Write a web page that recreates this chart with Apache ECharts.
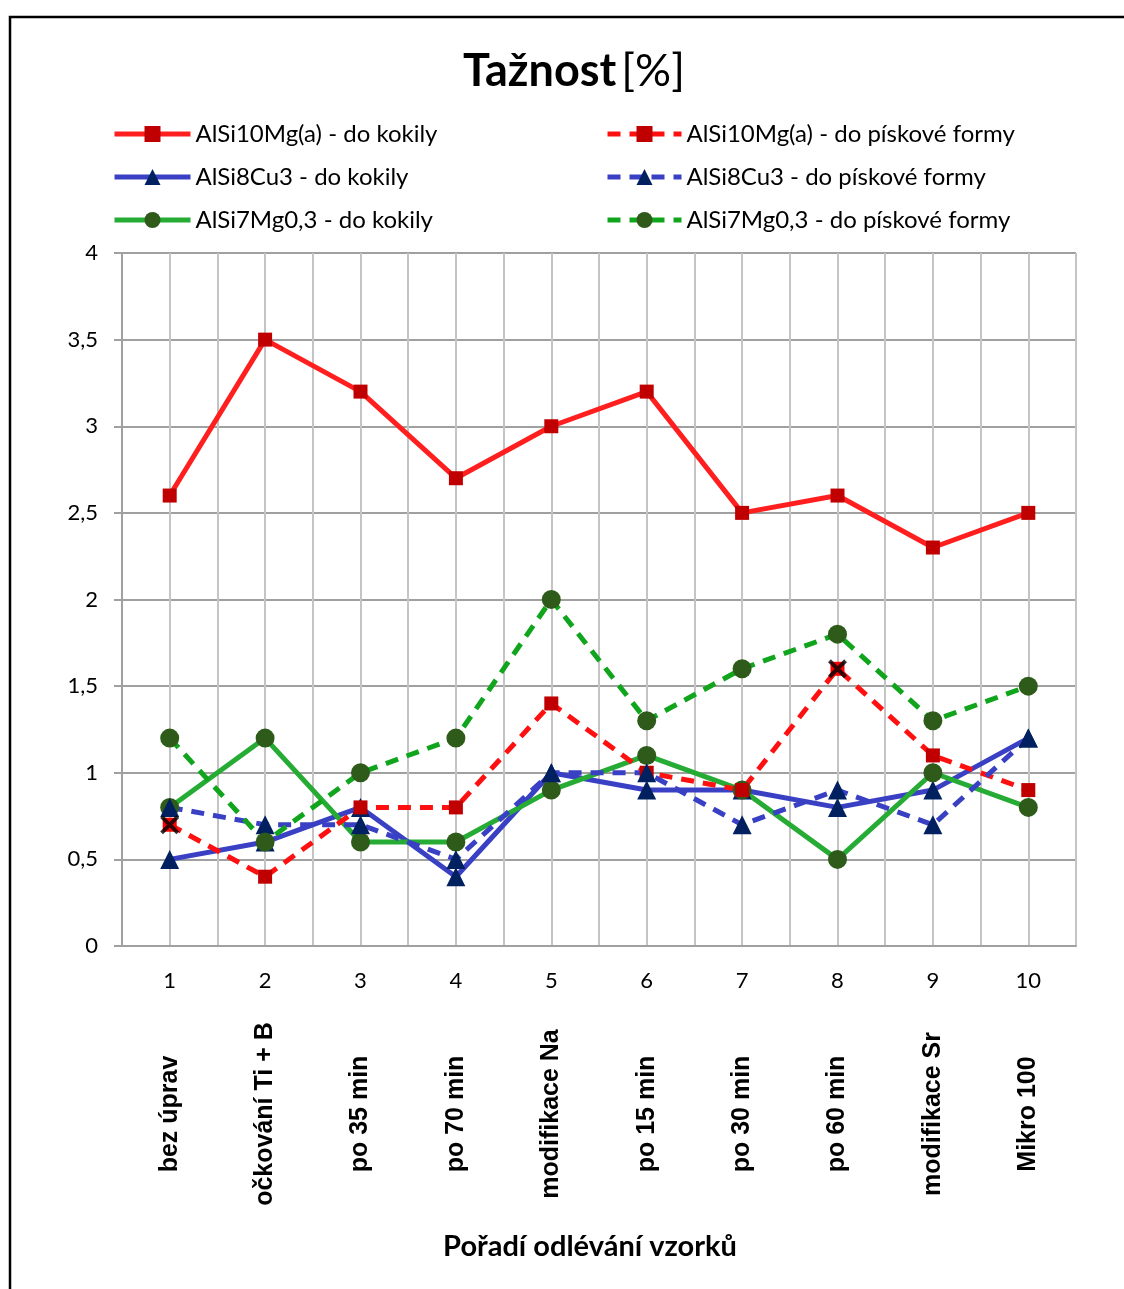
<!DOCTYPE html>
<html>
<head>
<meta charset="utf-8">
<script src="https://cdn.jsdelivr.net/npm/echarts@6/dist/echarts.min.js"></script>
<style>
  html, body { margin: 0; padding: 0; background: #fff; }
  #chart { width: 1124px; height: 1289px; }
</style>
</head>
<body>
<div id="chart"></div>
<script>
// Pořadí vzorků a popisy kroků
const sampleNumbers = ['1', '2', '3', '4', '5', '6', '7', '8', '9', '10'];
const stepLabels = ['bez úprav', 'očkování Ti + B', 'po 35 min', 'po 70 min', 'modifikace Na',
                    'po 15 min', 'po 30 min', 'po 60 min', 'modifikace Sr', 'Mikro 100'];
const yTicks = [0, 0.5, 1, 1.5, 2, 2.5, 3, 3.5, 4];

// Tažnost [%]
const alSi10Kokila = [2.6, 3.5, 3.2, 2.7, 3.0, 3.2, 2.5, 2.6, 2.3, 2.5];
const alSi10Pisek  = [0.7, 0.4, 0.8, 0.8, 1.4, 1.0, 0.9, 1.6, 1.1, 0.9];
const alSi8Kokila  = [0.5, 0.6, 0.8, 0.4, 1.0, 0.9, 0.9, 0.8, 0.9, 1.2];
const alSi8Pisek   = [0.8, 0.7, 0.7, 0.5, 1.0, 1.0, 0.7, 0.9, 0.7, 1.2];
const alSi7Kokila  = [0.8, 1.2, 0.6, 0.6, 0.9, 1.1, 0.9, 0.5, 1.0, 0.8];
const alSi7Pisek   = [1.2, 0.6, 1.0, 1.2, 2.0, 1.3, 1.6, 1.8, 1.3, 1.5];
// vzorky AlSi10Mg(a) do pískové formy označené křížkem
const crossedSamples = [0, 7];

const FONT = 'Lato, "Open Sans", sans-serif';
const CROSS = 'path://M0,3 L3,0 L10,7 L17,0 L20,3 L13,10 L20,17 L17,20 L10,13 L3,20 L0,17 L7,10 Z';

function lineSeries(name, data, lineColor, dashed, symbol, symbolSize, markColor) {
  return {
    name: name,
    type: 'line',
    xAxisIndex: 0,
    data: data,
    symbol: symbol,
    symbolSize: symbolSize,
    showAllSymbol: true,
    lineStyle: { color: lineColor, width: 5, type: dashed ? [13, 9] : 'solid' },
    itemStyle: { color: markColor, borderWidth: 0 },
    emphasis: { disabled: true },
    z: 3
  };
}

// červené čtverečky s křížkem jsou zvýrazněné jasnější barvou
const alSi10PisekData = alSi10Pisek.map((v, i) =>
  crossedSamples.indexOf(i) >= 0 ? { value: v, itemStyle: { color: '#ff0000' } } : v);

const series = [
  lineSeries('AlSi10Mg(a) - do kokily', alSi10Kokila, '#ff1f1f', false, 'rect', 14, '#c00000'),
  lineSeries('AlSi8Cu3 - do kokily', alSi8Kokila, '#3a40c4', false, 'triangle', 19, '#002060'),
  lineSeries('AlSi7Mg0,3 - do kokily', alSi7Kokila, '#26ab34', false, 'circle', 19, '#2e5b1a'),
  lineSeries('AlSi10Mg(a) - do pískové formy', alSi10PisekData, '#ff1010', true, 'rect', 14, '#c00000'),
  lineSeries('AlSi8Cu3 - do pískové formy', alSi8Pisek, '#3a40c4', true, 'triangle', 19, '#002060'),
  lineSeries('AlSi7Mg0,3 - do pískové formy', alSi7Pisek, '#10a51c', true, 'circle', 19, '#2e5b1a'),
  {
    name: 'kříž',
    type: 'scatter',
    xAxisIndex: 0,
    data: crossedSamples.map(i => [sampleNumbers[i], alSi10Pisek[i]]),
    symbol: CROSS,
    symbolSize: 19,
    itemStyle: { color: '#000' },
    emphasis: { disabled: true },
    z: 5
  }
];

const legendCommon = {
  orient: 'vertical',
  top: 122,
  padding: 0,
  itemWidth: 76,
  itemHeight: 20,
  itemGap: 19,
  lineStyle: { width: 5 },
  textStyle: { fontFamily: FONT, fontSize: 24, color: '#000', lineHeight: 24 },
  selectedMode: false
};

const chart = echarts.init(document.getElementById('chart'), null, { renderer: 'canvas' });
chart.setOption({
  backgroundColor: '#fff',
  animation: false,
  title: {
    text: '{b|Tažnost} {r|[%]}',
    left: 458,
    top: 44,
    textStyle: {
      rich: {
        b: { fontFamily: FONT, fontSize: 45, fontWeight: 'bold', color: '#000' },
        r: { fontFamily: FONT, fontSize: 45, fontWeight: 'normal', color: '#000' }
      }
    }
  },
  legend: [
    Object.assign({}, legendCommon, {
      data: ['AlSi10Mg(a) - do kokily', 'AlSi8Cu3 - do kokily', 'AlSi7Mg0,3 - do kokily'],
      left: 112
    }),
    Object.assign({}, legendCommon, {
      data: ['AlSi10Mg(a) - do pískové formy', 'AlSi8Cu3 - do pískové formy', 'AlSi7Mg0,3 - do pískové formy'],
      left: 605,
      itemWidth: 74
    })
  ],
  grid: { left: 122, right: 48, top: 253, bottom: 343, containLabel: false },
  xAxis: [
    {
      type: 'category',
      data: sampleNumbers,
      boundaryGap: true,
      axisLine: { show: true, lineStyle: { color: '#a0a0a0', width: 2 } },
      axisTick: { show: false },
      splitLine: { show: false },
      axisLabel: { fontFamily: FONT, fontSize: 22, color: '#000', margin: 24 },
      name: 'Pořadí odlévání vzorků',
      nameLocation: 'middle',
      nameGap: 286,
      nameTextStyle: { fontFamily: FONT, fontSize: 29, fontWeight: 'bold', color: '#000', padding: [0, 18, 0, 0] },
      z: 2
    },
    {
      type: 'category',
      data: stepLabels,
      position: 'bottom',
      boundaryGap: true,
      axisLine: { show: false },
      axisTick: { show: false },
      splitLine: { show: false },
      axisLabel: {
        rotate: 90,
        align: 'center',
        verticalAlign: 'middle',
        margin: 168,
        fontFamily: '"Liberation Sans Narrow", "Arial Narrow", sans-serif',
        fontSize: 25,
        fontWeight: 'bold',
        color: '#000',
        interval: 0
      }
    },
    {
      // svislá mřížka: hranice i středy kategorií
      type: 'value',
      min: 0,
      max: 10,
      interval: 0.5,
      position: 'bottom',
      axisLine: { show: false },
      axisTick: { show: false },
      axisLabel: { show: false },
      splitLine: { show: true, lineStyle: { color: '#c4c4c4', width: 2 } }
    }
  ],
  yAxis: {
    type: 'value',
    min: 0,
    max: 4,
    interval: 0.5,
    axisLine: { show: true, lineStyle: { color: '#a0a0a0', width: 2 } },
    axisTick: { show: true, length: 8, lineStyle: { color: '#a0a0a0', width: 2 } },
    splitLine: { show: true, lineStyle: { color: '#a0a0a0', width: 2 } },
    axisLabel: {
      fontFamily: FONT,
      fontSize: 22,
      color: '#000',
      margin: 24,
      formatter: v => (yTicks.indexOf(v) >= 0 ? String(v).replace('.', ',') : '')
    }
  },
  graphic: [
    {
      type: 'rect',
      shape: { x: 10, y: 17, width: 1300, height: 1400 },
      style: { fill: 'none', stroke: '#000', lineWidth: 2.5 },
      silent: true,
      z: 10
    }
  ],
  series: series
});
</script>
</body>
</html>
